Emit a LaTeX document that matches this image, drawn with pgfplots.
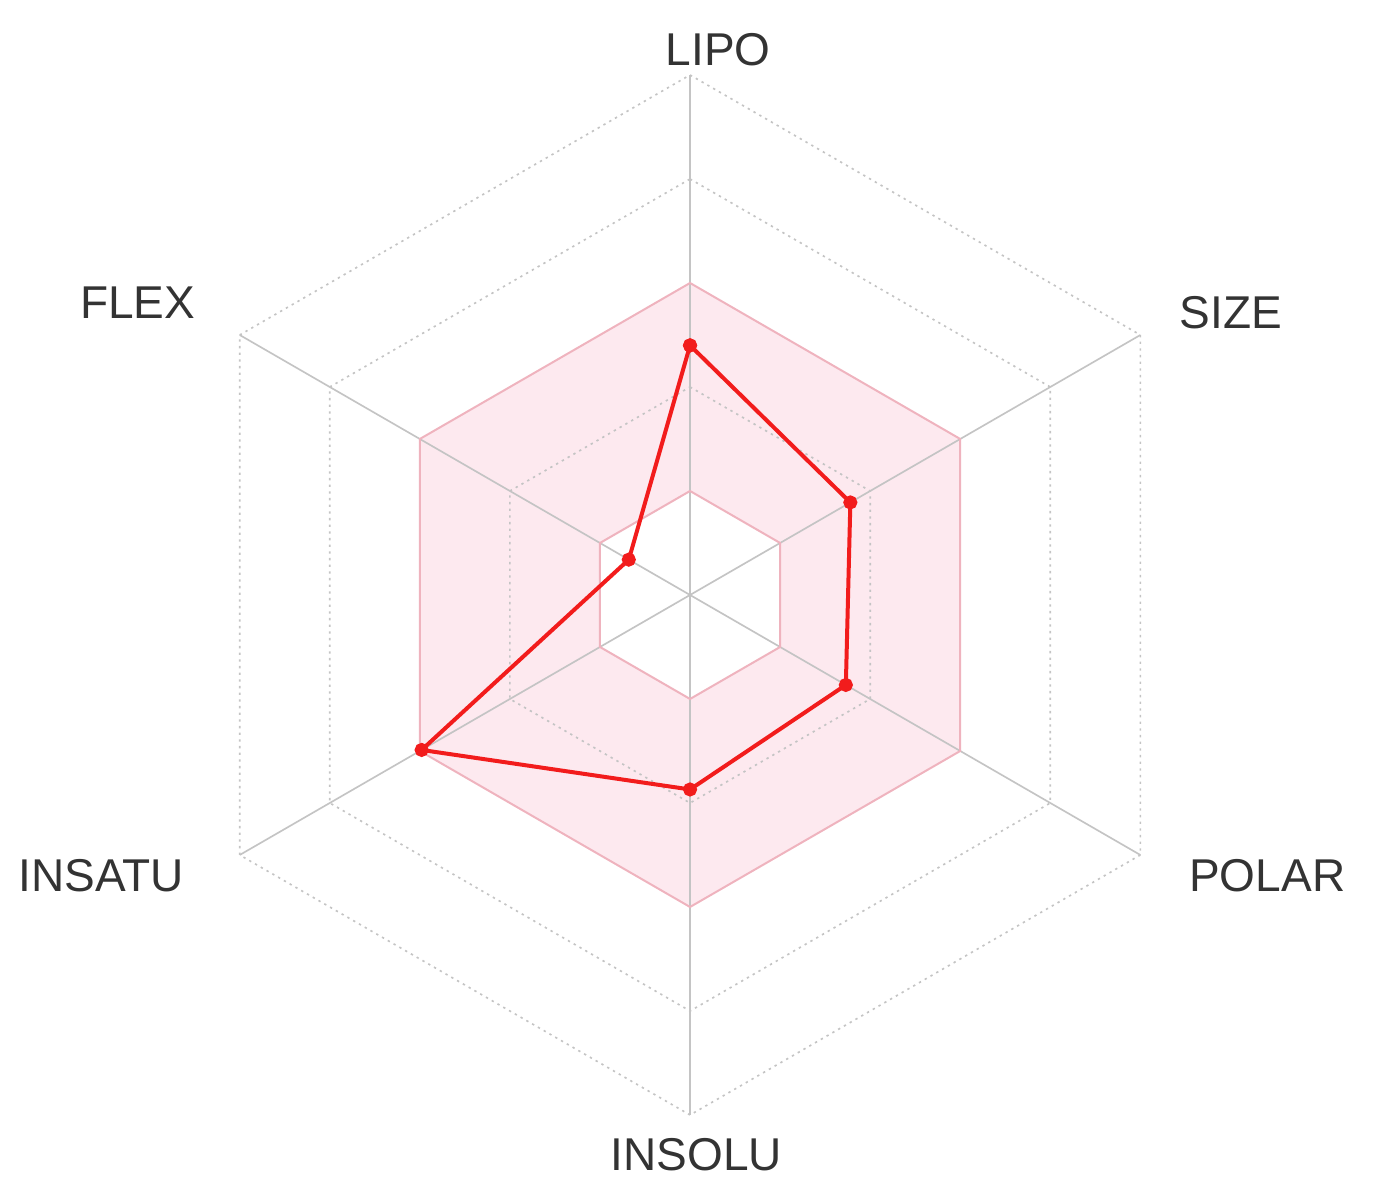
\documentclass[border=0pt]{standalone}
\usepackage{pgfplots}
\pgfplotsset{compat=1.18}
\usepackage{fontspec}
\setmainfont{Liberation Sans}
\definecolor{gridgray}{HTML}{C4C4C4}
\definecolor{bandfill}{HTML}{FDE9EF}
\definecolor{bandline}{HTML}{EFB3BE}
\definecolor{datared}{HTML}{F21C1C}
\definecolor{labeltext}{HTML}{333333}
\begin{document}
\begin{tikzpicture}
\begin{axis}[
  x=31.2pt, y=31.2pt,
  xmin=-6.635, xmax=6.644, ymin=-5.798, ymax=5.721,
  hide axis, clip=false,
]
\path (axis cs:-6.635,-5.798) rectangle (axis cs:6.644,5.721);
% pink band between level 1 and 3
\addplot[data cs=polar, draw=none, fill=bandfill] coordinates {(90,3)(30,3)(-30,3)(-90,3)(-150,3)(150,3)(90,3)};
\addplot[data cs=polar, draw=none, fill=white] coordinates {(90,1)(30,1)(-30,1)(-90,1)(-150,1)(150,1)(90,1)};
% dotted hexagons
\foreach \r in {2,4,5} {
  \addplot[data cs=polar, gridgray, line width=0.5pt, dash pattern=on 0.7pt off 1.3pt] coordinates {(90,\r)(30,\r)(-30,\r)(-90,\r)(-150,\r)(150,\r)(90,\r)};
}
% spokes
\addplot[data cs=polar, gridgray, line width=0.5pt] coordinates {(0,0)(90,5)};
\addplot[data cs=polar, gridgray, line width=0.5pt] coordinates {(0,0)(30,5)};
\addplot[data cs=polar, gridgray, line width=0.5pt] coordinates {(0,0)(-30,5)};
\addplot[data cs=polar, gridgray, line width=0.5pt] coordinates {(0,0)(-90,5)};
\addplot[data cs=polar, gridgray, line width=0.5pt] coordinates {(0,0)(-150,5)};
\addplot[data cs=polar, gridgray, line width=0.5pt] coordinates {(0,0)(150,5)};
% band borders
\addplot[data cs=polar, bandline, line width=0.6pt] coordinates {(90,3)(30,3)(-30,3)(-90,3)(-150,3)(150,3)(90,3)};
\addplot[data cs=polar, bandline, line width=0.6pt] coordinates {(90,1)(30,1)(-30,1)(-90,1)(-150,1)(150,1)(90,1)};
% data
\addplot[data cs=polar, datared, line width=1.2pt, mark=*, mark size=1.5pt, mark options={fill=datared, draw=datared}] coordinates {
(90,2.40) (30,1.78) (-30,1.73) (-90,1.87) (-150,2.98) (150,0.68) (90,2.40)};
% labels
\begin{scope}[every node/.style={font=\fontsize{13.8}{16}\selectfont, text=labeltext, inner sep=0pt}]
\node at (axis cs:0.27,5.24) {LIPO};
\node at (axis cs:5.20,2.71) {SIZE};
\node at (axis cs:5.55,-2.70) {POLAR};
\node at (axis cs:0.06,-5.38) {INSOLU};
\node at (axis cs:-5.66,-2.70) {INSATU};
\node at (axis cs:-5.31,2.81) {FLEX};
\end{scope}
\end{axis}
\end{tikzpicture}
\end{document}
